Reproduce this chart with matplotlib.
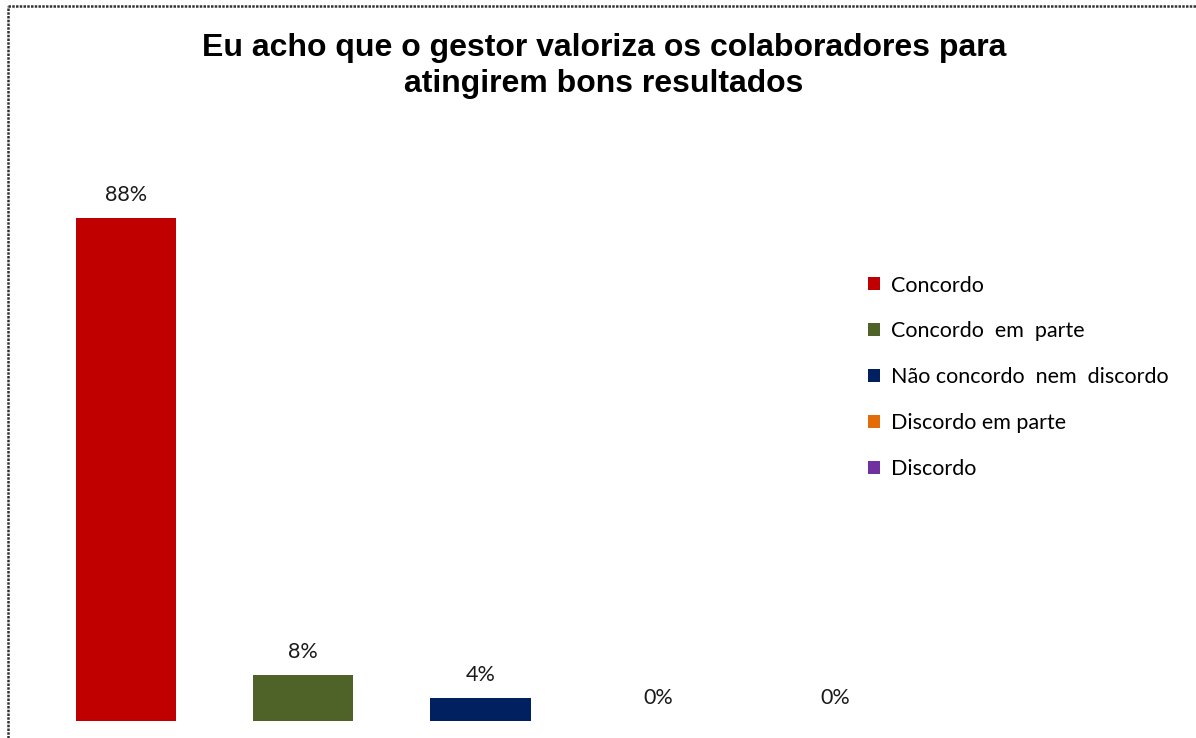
import matplotlib
matplotlib.use("Agg")
import matplotlib.pyplot as plt
from matplotlib.lines import Line2D

categories = ["Concordo", "Concordo  em  parte", "Não concordo  nem  discordo",
              "Discordo em parte", "Discordo"]
values = [88, 8, 4, 0, 0]
labels = ["88%", "8%", "4%", "0%", "0%"]
colors = ["#C00000", "#4F6228", "#002060", "#E36C09", "#7030A0"]
title = "Eu acho que o gestor valoriza os colaboradores para\natingirem bons resultados"

W, H = 1196, 738
fig = plt.figure(figsize=(W / 100, H / 100), dpi=100)
fig.patch.set_facecolor("white")

# axes: x from 37 to 924 px, y bottom at 721, top at 149 (100%)
ax = fig.add_axes([37 / W, (H - 721) / H, (924 - 37) / W, (721 - 149) / H])
ax.set_xlim(-0.5, 4.5)
ax.set_ylim(0, 100)
ax.axis("off")

lab_font = "Lato"
bars = ax.bar(range(len(values)), values, width=0.565, color=colors)
for i, (v, lab) in enumerate(zip(values, labels)):
    ax.annotate(lab, (i, v), xytext=(0, 16.5), textcoords="offset points",
                ha="center", va="center", fontsize=15.5, family=lab_font, color="#1a1a1a")

fig.text(604 / W, 1 - 66 / H, title, ha="center", va="center", fontsize=23,
         fontweight="bold", family="Liberation Sans", linespacing=1.24)

leg = fig.legend(bars, categories, loc="upper left",
                 bbox_to_anchor=(868 / W, 1 - 275.5 / H), frameon=False,
                 prop={"family": lab_font, "size": 15.5}, handlelength=0.56,
                 handleheight=0.56, handletextpad=0.5, labelspacing=1.2,
                 borderpad=0, borderaxespad=0)

# outer dotted border (left and top visible)
fig.add_artist(Line2D([8 / W, 8 / W], [0, 1 - 6 / H], transform=fig.transFigure,
                      color="#333333", lw=1.8, linestyle=(0, (1, 0.5))))
fig.add_artist(Line2D([8 / W, 1], [1 - 6 / H, 1 - 6 / H], transform=fig.transFigure,
                      color="#333333", lw=1.8, linestyle=(0, (1, 0.5))))

fig.savefig("out.png", dpi=100, facecolor="white")
